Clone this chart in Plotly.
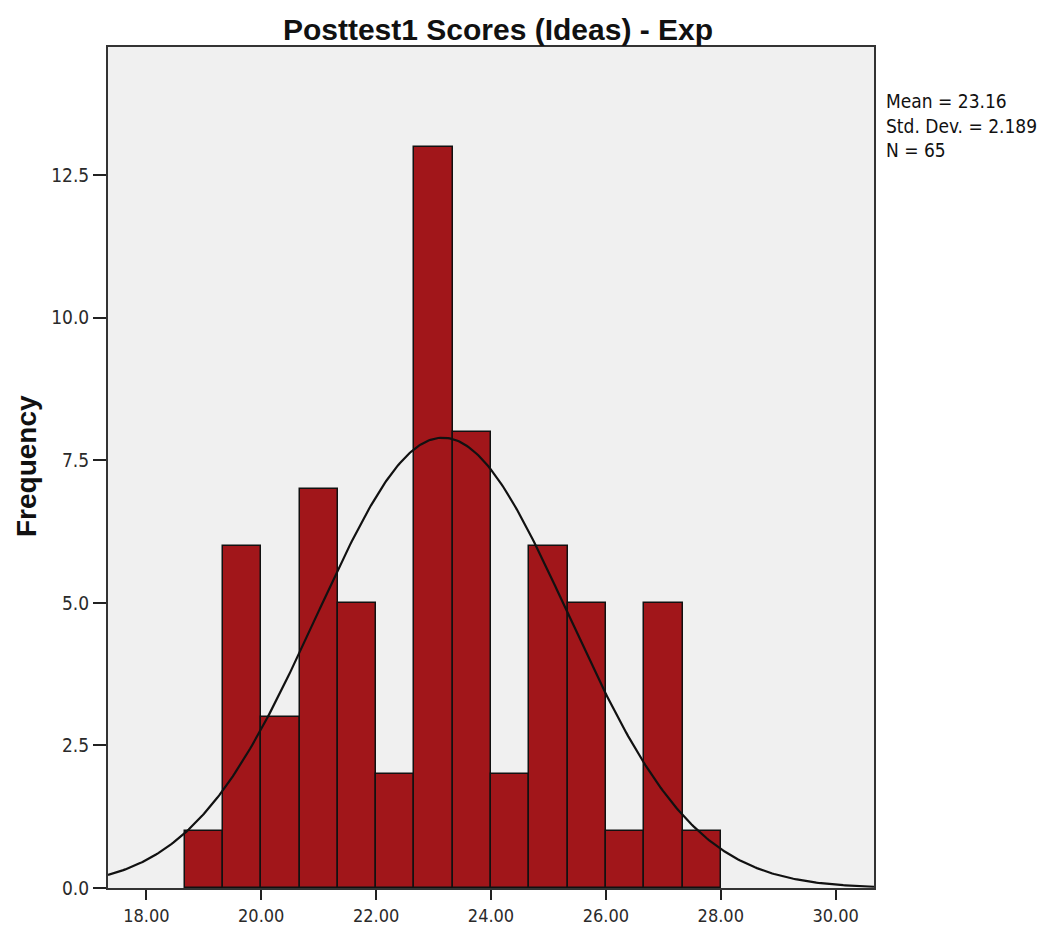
import numpy as np
import plotly.graph_objects as go

# Histogram of Posttest1 idea scores (experimental group)
bin_start = 18.6667
bin_width = 0.6667
counts = [1, 6, 3, 7, 5, 2, 13, 8, 2, 6, 5, 1, 5, 1]

mean_score = 23.16
std_dev = 2.189
n_total = 65

x_ticks = [18, 20, 22, 24, 26, 28, 30]
x_tick_text = ["18.00", "20.00", "22.00", "24.00", "26.00", "28.00", "30.00"]
y_ticks = [0, 2.5, 5, 7.5, 10, 12.5]
y_tick_text = ["0.0", "2.5", "5.0", "7.5", "10.0", "12.5"]

x_range = [17.333, 30.667]
y_range = [0, 14.75]

centers = [bin_start + bin_width * (i + 0.5) for i in range(len(counts))]

# Normal curve scaled to the histogram counts
xs = np.linspace(x_range[0], x_range[1], 400)
ys = n_total * bin_width / (std_dev * np.sqrt(2 * np.pi)) * np.exp(-0.5 * ((xs - mean_score) / std_dev) ** 2)

fig = go.Figure()
fig.add_trace(go.Bar(
    x=centers, y=counts, width=bin_width,
    marker=dict(color="#A1161A", line=dict(color="#111111", width=1.5)),
    hoverinfo="skip",
))
fig.add_trace(go.Scatter(
    x=xs, y=ys, mode="lines",
    line=dict(color="#111111", width=2.2),
    hoverinfo="skip",
))

x_tick_font = dict(family="DejaVu Sans Condensed", size=18, color="#2a2a2a")
y_tick_font = dict(family="DejaVu Sans Condensed", size=19, color="#2a2a2a")

fig.update_layout(
    width=1048, height=926,
    margin=dict(l=108, r=174, t=47, b=38),
    paper_bgcolor="white",
    plot_bgcolor="#F0F0F0",
    showlegend=False,
    bargap=0,
    title=dict(
        text="<b>Posttest1 Scores (Ideas) - Exp</b>",
        x=498 / 1048, xanchor="center",
        y=1 - 29 / 926, yanchor="middle",
        font=dict(family="Liberation Sans", size=30, color="#111111"),
        automargin=False,
    ),
    xaxis=dict(
        range=x_range, tickvals=x_ticks, ticktext=x_tick_text,
        showgrid=False, zeroline=False, automargin=False,
        showline=True, linecolor="#333333", linewidth=2, mirror=True,
        ticks="outside", ticklen=10, tickwidth=2, tickcolor="#222222",
        tickfont=x_tick_font,
    ),
    yaxis=dict(
        range=y_range, tickvals=y_ticks, ticktext=y_tick_text,
        showgrid=False, zeroline=False, automargin=False,
        showline=True, linecolor="#333333", linewidth=2, mirror=True,
        ticks="outside", ticklen=13, tickwidth=2, tickcolor="#222222",
        tickfont=y_tick_font,
    ),
    annotations=[
        dict(
            text="Mean = 23.16<br>Std. Dev. = 2.189<br>N = 65",
            xref="paper", yref="paper",
            x=(884 - 108) / 766, y=(888 - 88) / 841,
            xanchor="left", yanchor="top", align="left",
            showarrow=False,
            font=dict(family="DejaVu Sans Condensed", size=19, color="#111111"),
        ),
        dict(
            text="<b>Frequency</b>",
            xref="paper", yref="paper",
            x=(26 - 108) / 766, y=(888 - 466) / 841,
            xanchor="center", yanchor="middle",
            textangle=-90, showarrow=False,
            font=dict(family="Liberation Sans", size=28, color="#111111"),
        ),
    ],
)

fig.write_html("out.html")
